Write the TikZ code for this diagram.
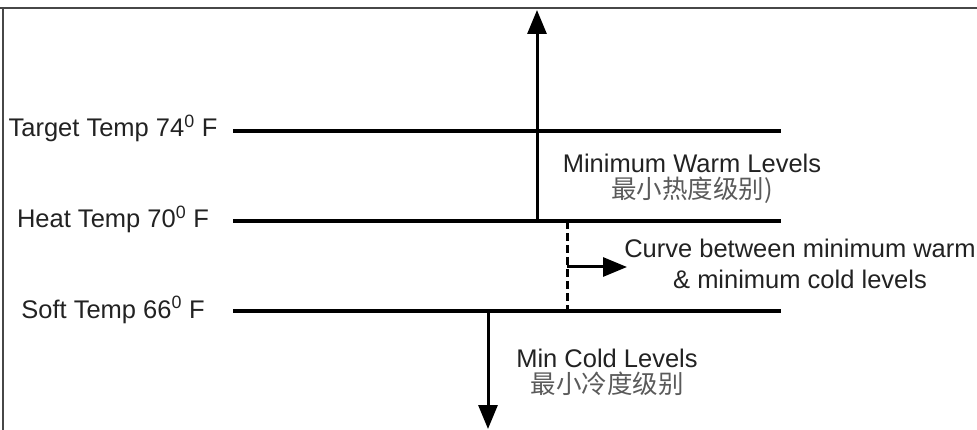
\documentclass[tikz,border=0pt]{standalone}
\usepackage{fontspec}
\setmainfont{Liberation Sans}
\newfontfamily\cjk{Noto Sans CJK SC}
\usetikzlibrary{arrows.meta}
\definecolor{txtgray}{HTML}{222222}
\definecolor{cjkgray}{HTML}{5A5A5A}
\definecolor{framegray}{HTML}{474747}
\tikzset{
	level/.style={line width=4pt},
	pointer/.style={line width=3pt,-{Triangle[length=24pt,width=19pt]}},
	lbl/.style={inner sep=0pt,text=txtgray,font=\fontsize{25.5}{26}\selectfont,align=center},
}
\begin{document}
\begin{tikzpicture}[x=1pt,y=-1pt]
			\useasboundingbox (0,0) rectangle (977,430);
			\draw[framegray,line width=2pt] (0,8) -- (977,8);
			\draw[framegray,line width=2pt] (3,8) -- (3,430);
			\coordinate (tL) at (233,131);
			\coordinate (tR) at (781,131);
			\coordinate (hL) at (233,221);
			\coordinate (hR) at (781,221);
			\coordinate (sL) at (233,311);
			\coordinate (sR) at (781,311);
			\coordinate (upS) at (537,221);
			\coordinate (upE) at (537,10);
			\coordinate (dnS) at (488,311);
			\coordinate (dnE) at (488,429);
			\coordinate (cvT) at (567,221);
			\coordinate (cvB) at (567,311);
			\coordinate (cvS) at (567,267);
			\coordinate (cvE) at (627,267);
			\draw[level] (tL) -- (tR);
			\draw[level] (hL) -- (hR);
			\draw[level] (sL) -- (sR);
			\draw[pointer] (upS) -- (upE);
			\draw[pointer] (dnS) -- (dnE);
			\draw[line width=3pt,dash pattern=on 8pt off 4pt] (cvT) -- (cvB);
			\draw[pointer] (cvS) -- (cvE);
			\node[lbl,anchor=base] (target) at (113,137) {Target Temp 74\textsuperscript{0} F};
			\node[lbl,anchor=base] (heat) at (113,228) {Heat Temp 70\textsuperscript{0} F};
			\node[lbl,anchor=base] (soft) at (113,318) {Soft Temp 66\textsuperscript{0} F};
			\node[lbl,anchor=north] (warm) at (692,154) {Minimum Warm Levels\\{\cjk\color{cjkgray}最小热度级别)}};
			\node[lbl,anchor=north,font=\fontsize{25.5}{31}\selectfont] (curve) at (800,239) {Curve between minimum warm\\\& minimum cold levels};
			\node[lbl,anchor=north] (cold) at (607,349) {Min Cold Levels\\{\cjk\color{cjkgray}最小冷度级别}};
\end{tikzpicture}
\end{document}
